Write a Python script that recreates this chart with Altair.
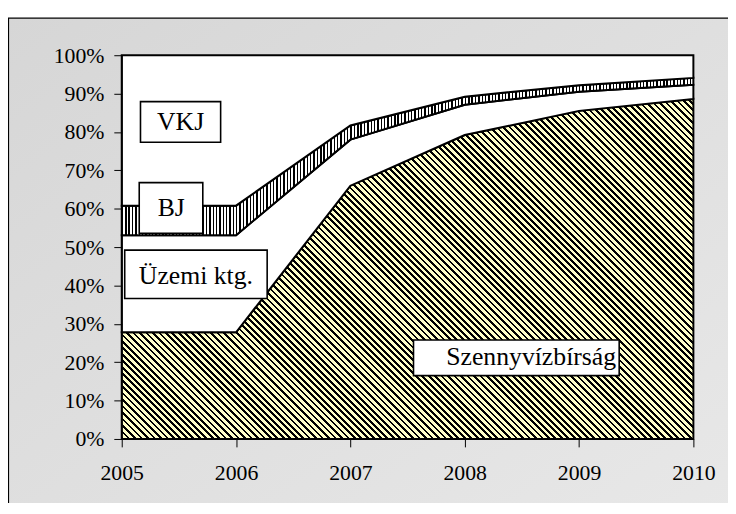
import altair as alt
import pandas as pd

# ---------------- data ----------------
years = [2005, 2006, 2007, 2008, 2009, 2010]
series = ["Szennyvízbírság", "Üzemi ktg.", "BJ", "VKJ"]
szenny = [27.8, 27.8, 66.0, 79.2, 85.5, 88.6]
uzemi = [25.3, 25.3, 12.0, 7.9, 5.0, 3.7]
bj = [7.7, 7.7, 3.7, 2.1, 1.7, 1.8]
vkj = [39.2, 39.2, 18.3, 10.8, 7.8, 5.9]
y_ticks = list(range(0, 101, 10))

label_text = ["VKJ", "BJ", "Üzemi ktg.", "Szennyvízbírság"]
label_x = [2005.515, 2005.433, 2005.649, 2008.581]
label_y = [82.5, 60.2, 42.5, 21.4]
box_x0 = [2005.164, 2005.153, 2005.026, 2007.552]
box_x1 = [2005.865, 2005.709, 2006.272, 2009.351]
box_y0 = [77.3, 53.6, 36.6, 16.5]
box_y1 = [87.9, 66.8, 49.2, 25.8]

rows = []
for order, (name, vals) in enumerate(zip(series, [szenny, uzemi, bj, vkj])):
    for yr, v in zip(years, vals):
        rows.append({"year": yr, "series": name, "value": v, "order": order})
df = pd.DataFrame(rows)

labels = pd.DataFrame({"text": label_text, "x": label_x, "y": label_y,
                       "x0": box_x0, "x1": box_x1, "y0": box_y0, "y1": box_y1})

# ---------------- styles ----------------
W, H = 578, 388
FONT = "Liberation Serif"


def stripes(n, frac, c1, c2, x1, y1, x2, y2):
    stops = []
    for i in range(n):
        a = round(i / n, 6)
        b = round((i + frac) / n, 6)
        c = round((i + 1) / n, 6)
        stops += [{"offset": a, "color": c1}, {"offset": b, "color": c1},
                  {"offset": b, "color": c2}, {"offset": c, "color": c2}]
    return {"gradient": "linear", "x1": x1, "y1": y1, "x2": x2, "y2": y2, "stops": stops}


# diagonal hatch for the bottom area (bbox ~ W x 88.6% of H)
hw, hh = float(W), H * max(szenny) / 100.0
k = (1 / hh + 1 / hw) / (1 / hh ** 2 + 1 / hw ** 2)
diag_len = (hw + hh) / 2 ** 0.5
hatch = stripes(int(diag_len / 4.6), 0.42, "#000000", "#FFFFC8", 0, 1, k / hh, 1 - k / hw)
vstripes = stripes(int(W / 3.4), 0.42, "#000000", "#FFFFFF", 0, 0, 1, 0)
frame_grad = {"gradient": "linear", "x1": 0, "y1": 0, "x2": 1, "y2": 1,
              "stops": [{"offset": 0, "color": "#D6D6D6"}, {"offset": 1, "color": "#ECECEC"}]}

fills = {"Szennyvízbírság": hatch, "Üzemi ktg.": "#FFFFFF", "BJ": vstripes, "VKJ": "#FFFFFF"}

x_axis = alt.Axis(values=years, format="d", title=None, grid=False, zindex=2,
                  labelFont=FONT, labelFontSize=22, labelColor="black",
                  labelPadding=16, labelFlush=False, tickSize=8,
                  tickColor="black", domainColor="black")
x_scale = alt.Scale(domain=[2005, 2010], nice=False)
y_scale = alt.Scale(domain=[0, 100], nice=False)
y_axis = alt.Axis(values=y_ticks, labelExpr="datum.value + '%'", title=None, grid=False,
                  zindex=2, labelFont=FONT, labelFontSize=22, labelColor="black",
                  labelPadding=10, tickSize=8, tickColor="black", domainColor="black")

frame = alt.Chart(pd.DataFrame({"a": [0]})).mark_rect(
    fill=frame_grad, stroke="black", strokeWidth=1.2
).encode(x=alt.value(-114.5), x2=alt.value(W + 200), y=alt.value(-37.5), y2=alt.value(H + 200))

base = alt.Chart(df).transform_stack(
    stack="value", groupby=["year"], as_=["v0", "v1"],
    sort=[alt.SortField("order", order="ascending")]
)

areas = []
for i, name in enumerate(series):
    areas.append(
        base.transform_filter(alt.datum.series == name)
        .mark_area(fill=fills[name], stroke="black", strokeWidth=2, strokeJoin="miter")
        .encode(x=alt.X("year:Q", scale=x_scale, axis=x_axis),
                y=alt.Y("v1:Q", scale=y_scale, axis=y_axis),
                y2="v0:Q")
    )

boxes = alt.Chart(labels).mark_rect(fill="white", stroke="black", strokeWidth=1.6).encode(
    x=alt.X("x0:Q", scale=x_scale, axis=x_axis), x2="x1:Q",
    y=alt.Y("y0:Q", scale=y_scale, axis=y_axis), y2="y1:Q"
)
texts = alt.Chart(labels).mark_text(font=FONT, fontSize=26, color="black",
                                    align="center", baseline="middle").encode(
    x=alt.X("x:Q", scale=x_scale, axis=x_axis),
    y=alt.Y("y:Q", scale=y_scale, axis=y_axis), text="text:N"
)

chart = alt.layer(frame, *areas, boxes, texts).properties(
    width=W, height=H,
    autosize=alt.AutoSizeParams(type="none"),
    padding={"left": 115, "top": 45, "right": 35, "bottom": 62},
    background="white",
).configure_view(stroke=None)

chart.save("out.html", embed_options={"renderer": "svg", "actions": False})
